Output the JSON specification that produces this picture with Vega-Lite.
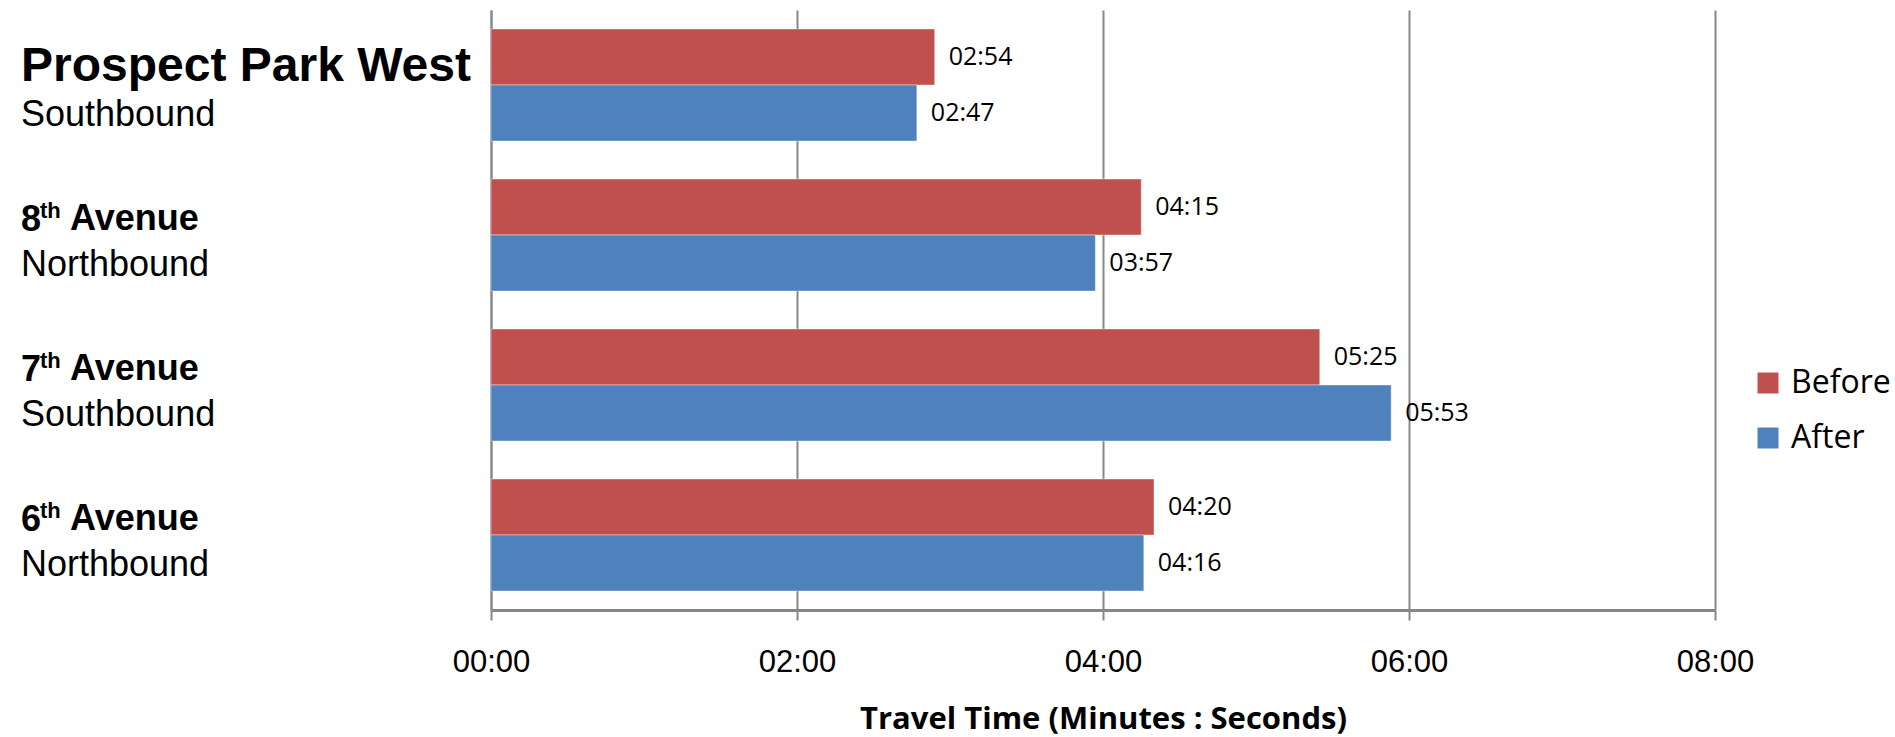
{
  "$schema": "https://vega.github.io/schema/vega-lite/v6.json",
  "width": 1224,
  "height": 600,
  "autosize": {"type": "none"},
  "padding": {"left": 491, "top": 10, "right": 180, "bottom": 127},
  "background": "white",
  "config": {"view": {"stroke": null}},
  "datasets": {
    "bars": [
      {"route": "Prospect Park West", "period": "Before", "seconds": 174, "label": "02:54"},
      {"route": "Prospect Park West", "period": "After", "seconds": 167, "label": "02:47"},
      {"route": "8th Avenue", "period": "Before", "seconds": 255, "label": "04:15"},
      {"route": "8th Avenue", "period": "After", "seconds": 237, "label": "03:57"},
      {"route": "7th Avenue", "period": "Before", "seconds": 325, "label": "05:25"},
      {"route": "7th Avenue", "period": "After", "seconds": 353, "label": "05:53"},
      {"route": "6th Avenue", "period": "Before", "seconds": 260, "label": "04:20"},
      {"route": "6th Avenue", "period": "After", "seconds": 256, "label": "04:16"}
    ],
    "routes": [
      {"route": "Prospect Park West", "t1": "Prospect Park West", "sup": "", "rest": "", "dir": "Southbound"},
      {"route": "8th Avenue", "t1": "8", "sup": "th", "rest": "Avenue", "dir": "Northbound"},
      {"route": "7th Avenue", "t1": "7", "sup": "th", "rest": "Avenue", "dir": "Southbound"},
      {"route": "6th Avenue", "t1": "6", "sup": "th", "rest": "Avenue", "dir": "Northbound"}
    ]
  },
  "layer": [
    {
      "data": {"name": "bars"},
      "mark": {"type": "bar", "stroke": "white", "strokeOpacity": 0.4, "strokeWidth": 1},
      "encoding": {
        "y": {
          "field": "route", "type": "nominal",
          "sort": ["Prospect Park West", "8th Avenue", "7th Avenue", "6th Avenue"],
          "scale": {"paddingInner": 0.2533, "paddingOuter": 0.1267},
          "axis": {"labels": false, "ticks": false, "domain": true, "domainColor": "#878787", "domainWidth": 2, "title": null, "grid": false}
        },
        "yOffset": {
          "field": "period", "type": "nominal", "sort": ["Before", "After"],
          "scale": {"paddingInner": 0, "paddingOuter": 0}
        },
        "x": {
          "field": "seconds", "type": "quantitative",
          "scale": {"domain": [0, 480], "nice": false},
          "axis": {
            "values": [0, 120, 240, 360, 480],
            "labelExpr": "(datum.value < 600 ? '0' : '') + floor(datum.value/60) + ':00'",
            "grid": true, "gridColor": "#878787", "gridWidth": 2,
            "domainColor": "#878787", "domainWidth": 3,
            "tickColor": "#878787", "tickWidth": 2, "tickSize": 10,
            "labelFont": "Liberation Sans", "labelFontSize": 31, "labelColor": "black",
            "labelPadding": 27, "labelFlush": false,
            "title": "Travel Time (Minutes : Seconds)",
            "titleFont": "Open Sans", "titleFontSize": 31, "titleFontWeight": "bold", "titleColor": "black",
            "titlePadding": 27
          }
        },
        "color": {
          "field": "period", "type": "nominal", "sort": ["Before", "After"],
          "scale": {"domain": ["Before", "After"], "range": ["#C0504D", "#4F81BD"]},
          "legend": {
            "orient": "none", "legendX": 1261, "legendY": 357, "title": null,
            "symbolType": "square", "symbolSize": 441, "symbolStrokeWidth": 0, "symbolOpacity": 1,
            "labelFont": "Open Sans", "labelFontSize": 32, "labelColor": "black", "labelOffset": 7,
            "rowPadding": 23
          }
        }
      }
    },
    {
      "data": {"name": "bars"},
      "mark": {"type": "text", "font": "Open Sans", "fontSize": 25, "align": "left", "baseline": "middle", "dx": 14, "color": "black"},
      "encoding": {
        "y": {"field": "route", "type": "nominal", "sort": ["Prospect Park West", "8th Avenue", "7th Avenue", "6th Avenue"]},
        "yOffset": {"field": "period", "type": "nominal", "sort": ["Before", "After"]},
        "x": {"field": "seconds", "type": "quantitative"},
        "text": {"field": "label"}
      }
    },
    {
      "data": {"name": "routes"},
      "mark": {"type": "text", "font": "Liberation Sans", "fontWeight": "bold", "align": "left", "baseline": "alphabetic", "dx": -470, "dy": -4, "color": "black"},
      "encoding": {
        "y": {"field": "route", "type": "nominal", "sort": ["Prospect Park West", "8th Avenue", "7th Avenue", "6th Avenue"]},
        "x": {"datum": 0, "type": "quantitative"},
        "text": {"field": "t1"},
        "size": {"condition": {"test": "datum.route === 'Prospect Park West'", "value": 48}, "value": 36}
      }
    },
    {
      "data": {"name": "routes"},
      "mark": {"type": "text", "font": "Liberation Sans", "fontWeight": "bold", "fontSize": 22, "align": "left", "baseline": "alphabetic", "dx": -451, "dy": -17, "color": "black"},
      "encoding": {
        "y": {"field": "route", "type": "nominal", "sort": ["Prospect Park West", "8th Avenue", "7th Avenue", "6th Avenue"]},
        "x": {"datum": 0, "type": "quantitative"},
        "text": {"field": "sup"}
      }
    },
    {
      "data": {"name": "routes"},
      "mark": {"type": "text", "font": "Liberation Sans", "fontWeight": "bold", "fontSize": 36, "align": "left", "baseline": "alphabetic", "dx": -421, "dy": -5, "color": "black"},
      "encoding": {
        "y": {"field": "route", "type": "nominal", "sort": ["Prospect Park West", "8th Avenue", "7th Avenue", "6th Avenue"]},
        "x": {"datum": 0, "type": "quantitative"},
        "text": {"field": "rest"}
      }
    },
    {
      "data": {"name": "routes"},
      "mark": {"type": "text", "font": "Liberation Sans", "fontSize": 36, "align": "left", "baseline": "alphabetic", "dx": -470, "dy": 41, "color": "black"},
      "encoding": {
        "y": {"field": "route", "type": "nominal", "sort": ["Prospect Park West", "8th Avenue", "7th Avenue", "6th Avenue"]},
        "x": {"datum": 0, "type": "quantitative"},
        "text": {"field": "dir"}
      }
    }
  ]
}
